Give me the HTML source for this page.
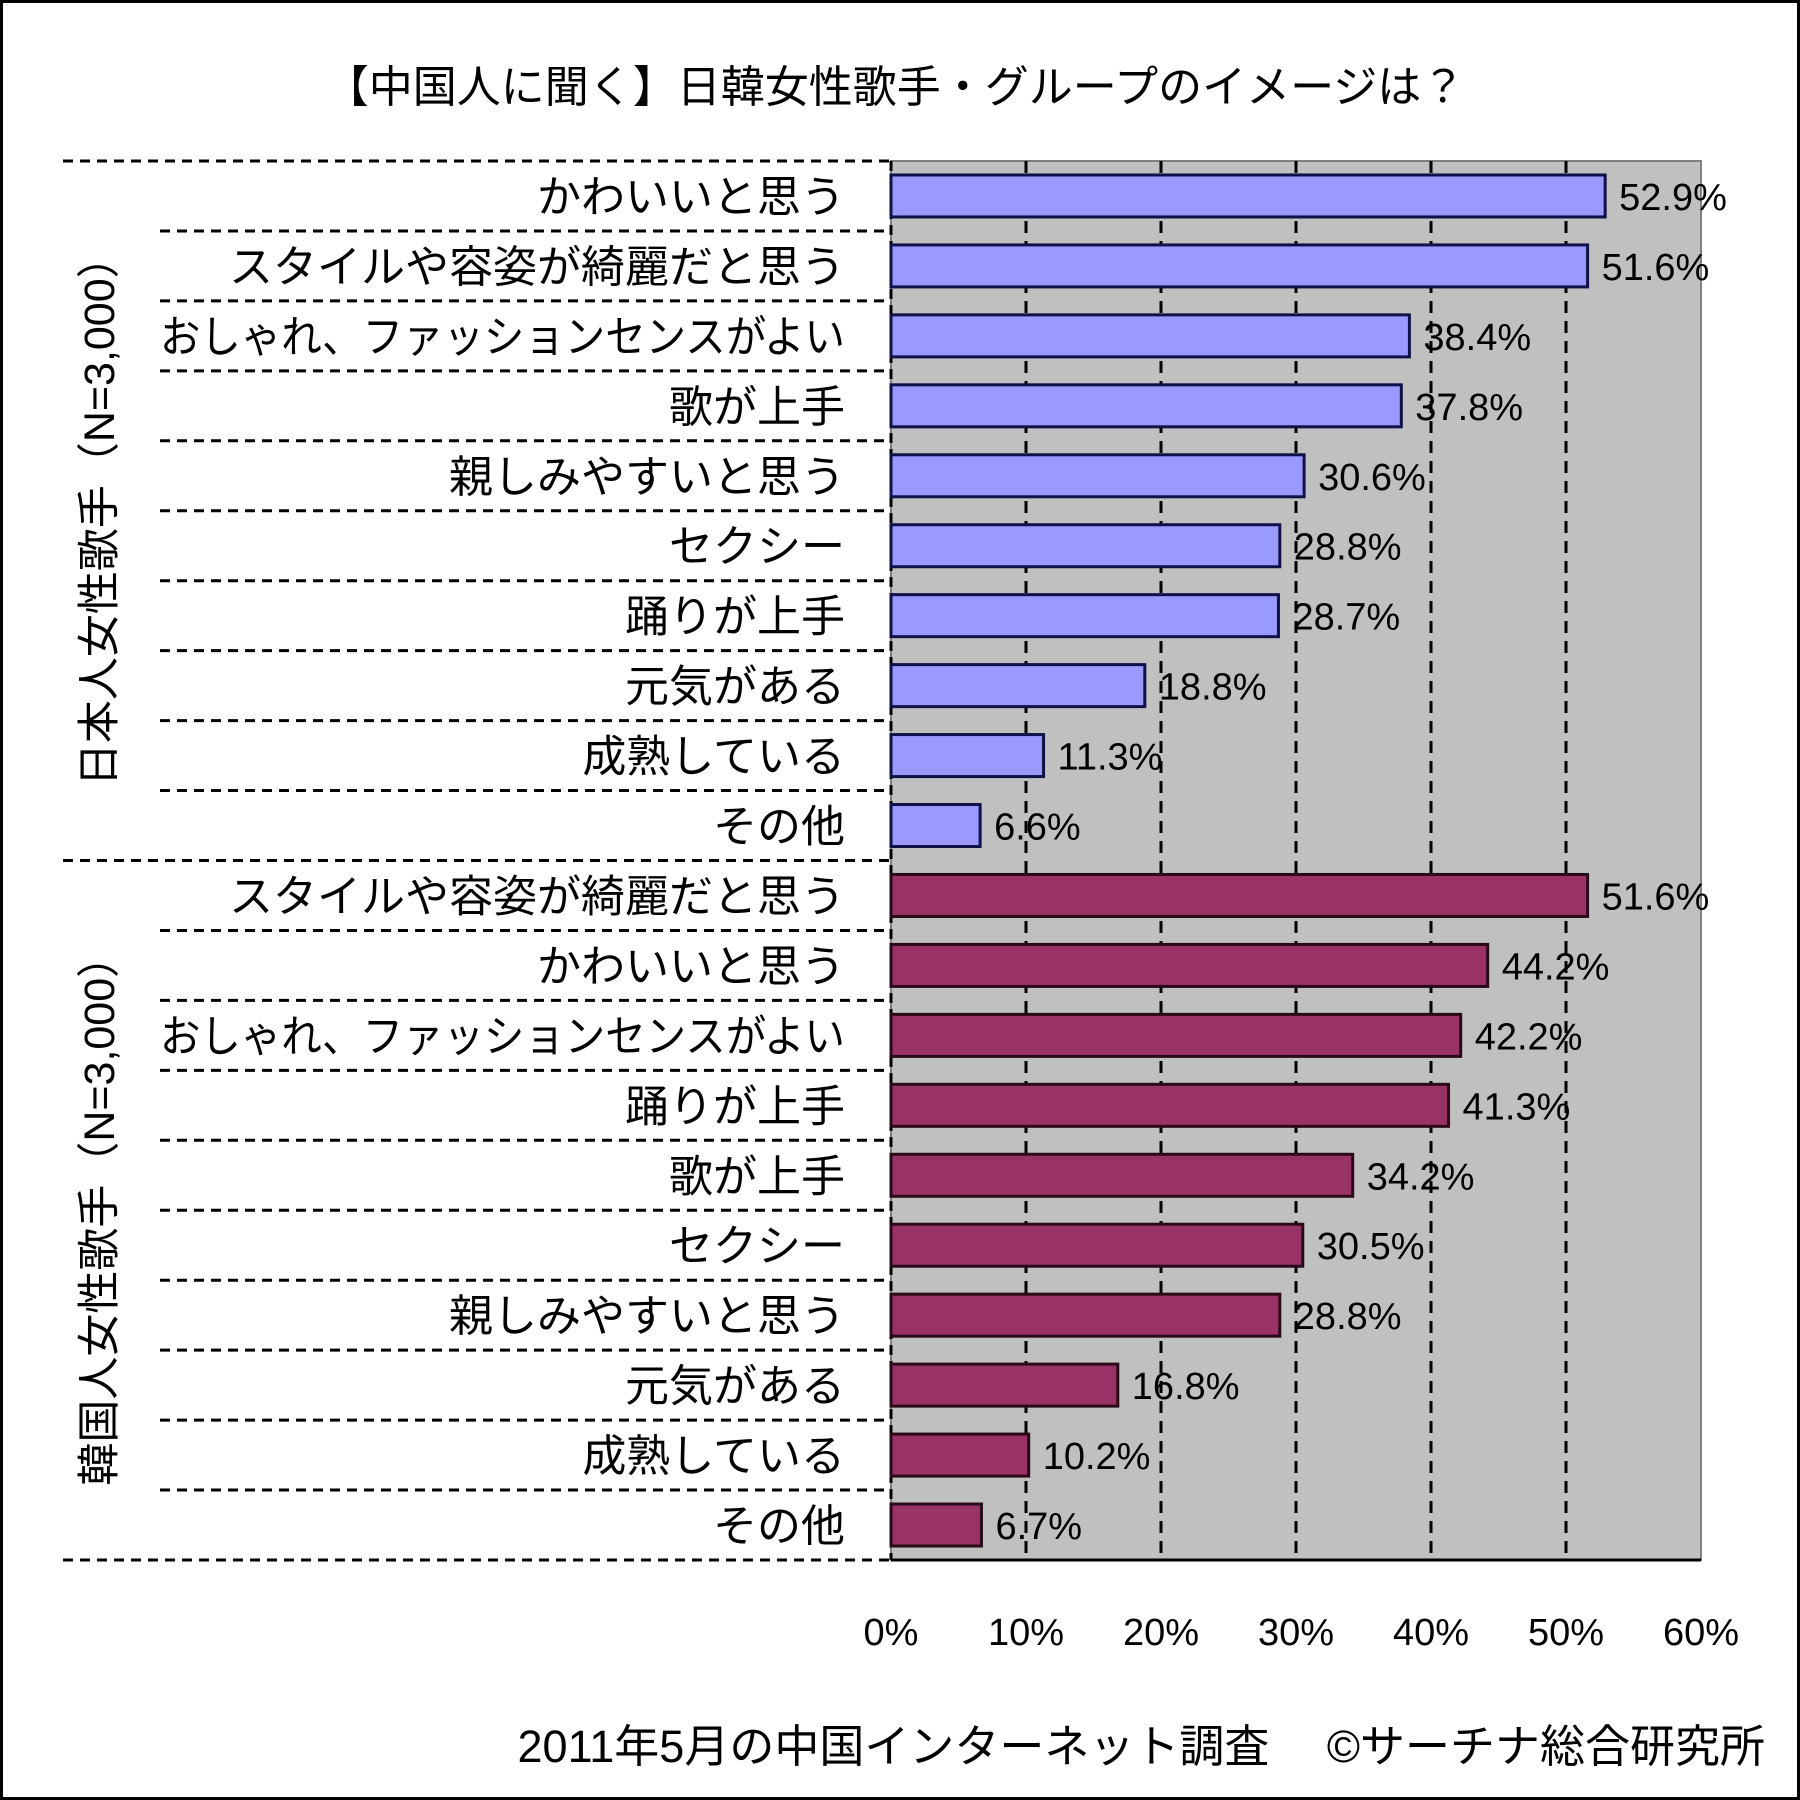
<!DOCTYPE html>
<html><head><meta charset="utf-8"><style>
html,body{margin:0;padding:0;background:#fff}
body{width:1800px;height:1800px;position:relative;overflow:hidden;font-family:"Liberation Sans","Noto Sans CJK JP",sans-serif}
</style></head><body>
<svg id="chart" width="1800" height="1800" xmlns="http://www.w3.org/2000/svg" style="position:absolute;left:0;top:0">
<rect x="1.5" y="1.5" width="1797" height="1797" fill="#fff" stroke="#000" stroke-width="3"/>
<text x="895" y="102" font-size="44" text-anchor="middle" font-family="Liberation Sans, Noto Sans CJK JP, sans-serif">【中国人に聞く】日韓女性歌手・グループのイメージは？</text>
<g id="plot"></g>
<text x="1765" y="1762" font-size="45" text-anchor="end" font-family="Liberation Sans, Noto Sans CJK JP, sans-serif">2011年5月の中国インターネット調査　 ©サーチナ総合研究所</text>
</svg>
<script>
const categories=["かわいいと思う","スタイルや容姿が綺麗だと思う","おしゃれ、ファッションセンスがよい","歌が上手","親しみやすいと思う","セクシー","踊りが上手","元気がある","成熟している","その他","スタイルや容姿が綺麗だと思う","かわいいと思う","おしゃれ、ファッションセンスがよい","踊りが上手","歌が上手","セクシー","親しみやすいと思う","元気がある","成熟している","その他"];
const values=[52.9,51.6,38.4,37.8,30.6,28.8,28.7,18.8,11.3,6.6,51.6,44.2,42.2,41.3,34.2,30.5,28.8,16.8,10.2,6.7];
const groups=["日本人女性歌手（N=3,000）","韓国人女性歌手（N=3,000）"];
const groupSizes=[10,10];
const ticks=[0,10,20,30,40,50,60];
const tickLabels=["0%","10%","20%","30%","40%","50%","60%"];

const NS="http://www.w3.org/2000/svg";
const g=document.getElementById('plot');
const X0=891,X1=1701,Y0=161,Y1=1560,XMAX=60;
const n=categories.length,rowH=(Y1-Y0)/n,barH=42;
const xs=v=>X0+(v/XMAX)*(X1-X0);
const ys=i=>Y0+i*rowH;
function mk(t,a){const e=document.createElementNS(NS,t);for(const k in a)e.setAttribute(k,a[k]);g.appendChild(e);return e;}
const bg=mk('rect',{x:X0,y:Y0,width:X1-X0,height:Y1-Y0,fill:'#c0c0c0',stroke:'#808080','stroke-width':2});


ticks.forEach((t,k)=>{
  if(t>0&&t<XMAX){const l=mk('line',{x1:xs(t),x2:xs(t),y1:Y0,y2:Y1,stroke:'#000','stroke-width':3,'stroke-dasharray':'12,8'});
  
  }
  const tx=mk('text',{x:xs(t),y:1645,'font-size':38,'text-anchor':'middle','font-family':'Liberation Sans Narrow, Liberation Sans, sans-serif'});
  tx.textContent=tickLabels[k];
  
  
});
const ax=mk('line',{x1:X0,x2:X1,y1:Y1,y2:Y1,stroke:'#000','stroke-width':3});


const ay=mk('line',{x1:X0,x2:X0,y1:Y0,y2:Y1,stroke:'#000','stroke-width':3,'stroke-dasharray':'10,6'});


const bounds=[0];let acc=0;groupSizes.forEach(s=>{acc+=s;bounds.push(acc);});
for(let i=0;i<=n;i++){
  const isG=bounds.includes(i);
  const l=mk('line',{x1:isG?63:160,x2:X0,y1:ys(i),y2:ys(i),stroke:'#000','stroke-width':3,'stroke-dasharray':'10,7'});
  
  
}
const MAXW=685;
values.forEach((v,i)=>{
  const grp=i<groupSizes[0]?0:1;
  const y=ys(i)+(rowH-barH)/2;
  const r=mk('rect',{x:X0,y:y,width:xs(v)-X0,height:barH,fill:grp?'#993366':'#9999ff',stroke:grp?'#2a0a18':'#10104a','stroke-width':3});
  
  
  const vl=mk('text',{x:xs(v)+14,y:y+barH/2+14,'font-size':38,'font-family':'Liberation Sans Narrow, Liberation Sans, sans-serif'});
  vl.textContent=v.toFixed(1)+'%';
  
  
  const cl=mk('text',{x:845,y:ys(i)+rowH/2+16,'font-size':44,'text-anchor':'end','font-family':'Liberation Sans, Noto Sans CJK JP, sans-serif'});
  cl.textContent=categories[i];
  
  
  if(cl.getComputedTextLength()>MAXW){cl.setAttribute('textLength',MAXW);cl.setAttribute('lengthAdjust','spacingAndGlyphs');}
});
groups.forEach((name,k)=>{
  const cy=(ys(bounds[k])+ys(bounds[k+1]))/2;
  const t=mk('text',{x:0,y:0,'font-size':43,'text-anchor':'middle',transform:`translate(114,${cy}) rotate(-90)`,'font-family':'Liberation Sans, Noto Sans CJK JP, sans-serif'});
  t.textContent=name;
  
  
});
</script>
</body></html>
